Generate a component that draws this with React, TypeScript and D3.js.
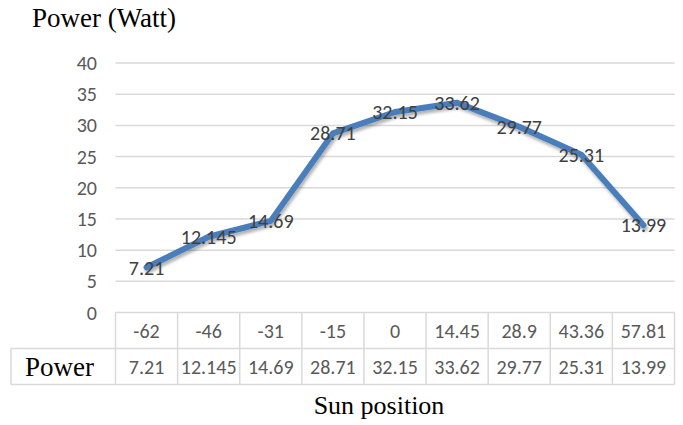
import React from 'react'
import * as d3 from 'd3'

const sunPositions = ['-62', '-46', '-31', '-15', '0', '14.45', '28.9', '43.36', '57.81']
const powerValues = [7.21, 12.145, 14.69, 28.71, 32.15, 33.62, 29.77, 25.31, 13.99]
const yTicks = [0, 5, 10, 15, 20, 25, 30, 35, 40]
const seriesName = 'Power'

const W = 683
const H = 425
const plot = { left: 115.5, right: 674.5, top: 63, bottom: 312.5 }
const rowH = 36
// 只写一个字体名，字体列表在这里不生效
const serif = '"Liberation Serif"'
const sans = '"Carlito"'

export default function App() {
  const x = d3.scaleBand<string>().domain(sunPositions).range([plot.left, plot.right]).padding(0)
  const y = d3.scaleLinear().domain([0, 40]).range([plot.bottom, plot.top])
  const cx = (i: number) => (x(sunPositions[i]) as number) + x.bandwidth() / 2

  const line = d3.line<number>()
    .x((d, i) => cx(i))
    .y(d => y(d))

  const tableTop = plot.bottom
  const grid = '#d9d9d9'

  return (
    <svg width={W} height={H} style={{ position: 'absolute', left: 0, top: 0, background: '#fff' }}>
      <defs>
        <filter id="shadow" x="-10%" y="-10%" width="120%" height="130%">
          <feDropShadow dx="1.5" dy="3" stdDeviation="1.8" floodColor="#000" floodOpacity="0.3" />
        </filter>
      </defs>

      {/* 标题 */}
      <text x={32} y={27} style={{ fontFamily: serif, fontSize: 27 }} fill="#000">Power (Watt)</text>

      {/* 网格线 + y轴刻度 */}
      {yTicks.map(t => (
        <g key={t}>
          {t > 0 && <line x1={plot.left} x2={plot.right} y1={y(t)} y2={y(t)} stroke={grid} strokeWidth={1.5} />}
          <text x={97} y={y(t)} dy="0.35em" textAnchor="end" style={{ fontFamily: sans, fontSize: 20 }} fill="#595959">{t}</text>
        </g>
      ))}

      {/* 折线 */}
      <path d={line(powerValues) || ''} fill="none" stroke="#4a7ebb" strokeWidth={6}
        strokeLinejoin="round" strokeLinecap="round" filter="url(#shadow)" />

      {/* 数据标签 */}
      {powerValues.map((v, i) => (
        <text key={i} x={cx(i)} y={y(v)} dy="0.35em" textAnchor="middle" style={{ fontFamily: sans, fontSize: 20 }} fill="#404040">{v}</text>
      ))}

      {/* 数据表 */}
      <g stroke={grid} strokeWidth={1.5} fill="none">
        <line x1={plot.left} x2={plot.right} y1={tableTop} y2={tableTop} />
        <line x1={11} x2={plot.right} y1={tableTop + rowH} y2={tableTop + rowH} />
        <line x1={11} x2={plot.right} y1={tableTop + rowH * 2} y2={tableTop + rowH * 2} />
        <line x1={11} x2={11} y1={tableTop + rowH} y2={tableTop + rowH * 2} />
        {sunPositions.map(c => (
          <line key={c} x1={x(c)} x2={x(c)} y1={tableTop} y2={tableTop + rowH * 2} />
        ))}
        <line x1={plot.right} x2={plot.right} y1={tableTop} y2={tableTop + rowH * 2} />
      </g>
      {sunPositions.map((c, i) => (
        <text key={c} x={cx(i)} y={tableTop + rowH / 2} dy="0.35em" textAnchor="middle" style={{ fontFamily: sans, fontSize: 20 }} fill="#595959">{c}</text>
      ))}
      {powerValues.map((v, i) => (
        <text key={i} x={cx(i)} y={tableTop + rowH * 1.5} dy="0.35em" textAnchor="middle" style={{ fontFamily: sans, fontSize: 20 }} fill="#595959">{v}</text>
      ))}
      <text x={25} y={tableTop + rowH * 1.5 + 9} style={{ fontFamily: serif, fontSize: 27 }} fill="#000">{seriesName}</text>

      {/* x轴标题 */}
      <text x={379} y={414} textAnchor="middle" style={{ fontFamily: serif, fontSize: 26 }} fill="#000">Sun position</text>
    </svg>
  )
}
